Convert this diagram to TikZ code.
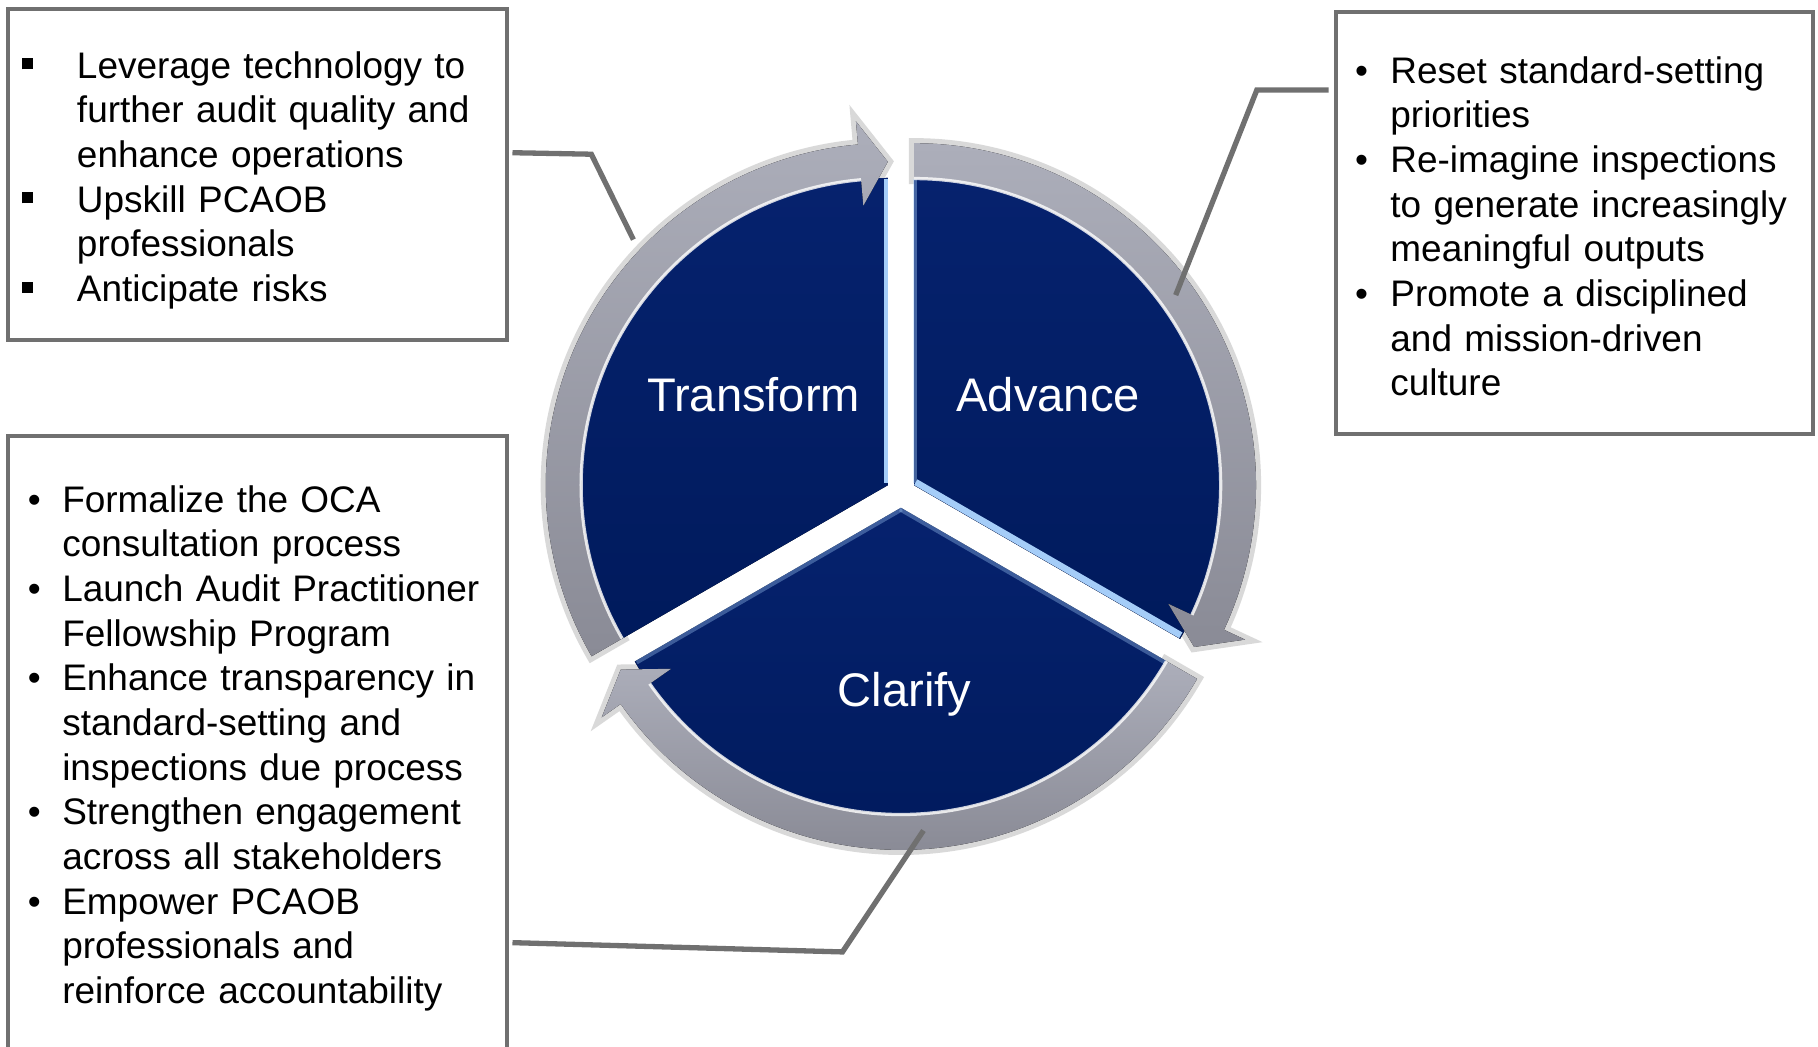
\documentclass[tikz,border=0pt]{standalone}
\usepackage{fontspec}
\setmainfont{Liberation Sans}
\usepackage{enumitem}

\definecolor{navyTop}{RGB}{6,34,110}
\definecolor{navyBot}{RGB}{0,26,92}
\definecolor{ringLight}{RGB}{172,174,186}
\definecolor{ringDark}{RGB}{138,139,150}
\definecolor{boxGray}{RGB}{112,112,112}
\definecolor{edgeBlue}{RGB}{165,205,248}

\newcommand{\sqbullet}{\rule[0.075cm]{0.095cm}{0.095cm}}

\begin{document}
\begin{tikzpicture}

    \tikzset{
      box/.style={
        draw=boxGray,
        line width=1pt,
        outer sep=0pt,
        inner sep=0pt,
        anchor=north west,
      },
      listtext/.style={
        anchor=north west,
        inner sep=0pt,
        text width=5cm,
        font=\fontsize{9.07pt}{10.96pt}\selectfont,
      },
      wedge/.style={top color=navyTop, bottom color=navyBot},
      ring/.style={top color=ringLight, bottom color=ringDark},
      ringshadow/.style={draw=black, line width=2.5pt, opacity=0.15},
      rimlight/.style={white, line width=0.8pt, opacity=0.8},
      edgelight/.style={edgeBlue, line width=1pt},
      seglabel/.style={anchor=base, text=white, font=\fontsize{11.57pt}{13.9pt}\selectfont},
      link/.style={draw=boxGray, line width=1.3pt},
    }
    \clip (0,0) rectangle (15.68,-9.03);

    % Transform
    \begin{scope}[shift={(7.657,-4.185)}]
	\draw[ringshadow] (210:2.95) arc[start angle=210,end angle=95,radius=2.95] -- (95:3.15) -- (90:2.79) -- (95:2.42) -- (95:2.64) arc[start angle=95,end angle=210,radius=2.64] -- cycle;
	\fill[wedge] (0,0) -- (90:2.65) arc[start angle=90,end angle=210,radius=2.65] -- cycle;
	\draw[edgelight] (-0.012,0.02) -- (-0.012,2.64);
	\fill[ring] (210:2.95) arc[start angle=210,end angle=95,radius=2.95] -- (95:3.15) -- (90:2.79) -- (95:2.42) -- (95:2.64) arc[start angle=95,end angle=210,radius=2.64] -- cycle;
	\draw[rimlight] (95:2.645) arc[start angle=95,end angle=210,radius=2.645];
	\node[seglabel] (transform) at (-1.157,0.639) {Transform};
	\coordinate (transformRim) at (136:3.05);
    \end{scope}

    % Advance
    \begin{scope}[shift={(7.883,-4.185)}]
	\draw[ringshadow] (90:2.95) arc[start angle=90,end angle=-25,radius=2.95] -- (-25:3.15) -- (-30:2.79) -- (-25:2.42) -- (-25:2.64) arc[start angle=-25,end angle=90,radius=2.64] -- cycle;
	\fill[wedge] (0,0) -- (-30:2.65) arc[start angle=-30,end angle=90,radius=2.65] -- cycle;
	\draw[edgelight, opacity=0.4] (0.012,0.02) -- (0.012,2.64);
	\draw[edgelight, line width=1.6pt] (0.015,0.026) -- (2.301,-1.294);
	\fill[ring] (90:2.95) arc[start angle=90,end angle=-25,radius=2.95] -- (-25:3.15) -- (-30:2.79) -- (-25:2.42) -- (-25:2.64) arc[start angle=-25,end angle=90,radius=2.64] -- cycle;
	\draw[rimlight] (-25:2.645) arc[start angle=-25,end angle=90,radius=2.645];
	\node[seglabel] (advance) at (1.157,0.639) {Advance};
	\coordinate (advanceRim) at (36:2.79);
    \end{scope}

    % Clarify
    \begin{scope}[shift={(7.77,-4.38)}]
	\draw[ringshadow] (330:2.95) arc[start angle=330,end angle=215,radius=2.95] -- (215:3.15) -- (210:2.79) -- (215:2.42) -- (215:2.64) arc[start angle=215,end angle=330,radius=2.64] -- cycle;
	\fill[wedge] (0,0) -- (210:2.65) arc[start angle=210,end angle=330,radius=2.65] -- cycle;
	\draw[edgelight, opacity=0.35] (0.0075,-0.013) -- (-2.279,-1.333);
	\draw[edgelight, opacity=0.35] (-0.0075,-0.013) -- (2.279,-1.333);
	\fill[ring] (330:2.95) arc[start angle=330,end angle=215,radius=2.95] -- (215:3.15) -- (210:2.79) -- (215:2.42) -- (215:2.64) arc[start angle=215,end angle=330,radius=2.64] -- cycle;
	\draw[rimlight] (215:2.645) arc[start angle=215,end angle=330,radius=2.645];
	\node[seglabel] (clarify) at (0.03,-1.71) {Clarify};
	\coordinate (clarifyRim) at (-86:2.79);
    \end{scope}

    % text boxes
    \node[box, minimum width=4.30cm, minimum height=2.85cm] (box1) at (0.07,-0.08) {};
    \node[box, minimum width=4.12cm, minimum height=3.64cm] (box2) at (11.52,-0.10) {};
    \node[box, minimum width=4.30cm, minimum height=5.60cm] (box3) at (0.07,-3.76) {};

    \node[listtext] (list1) at ([shift={(0.11,-0.201)}]box1.north west) {%
      \begin{itemize}[nosep, labelindent=0pt, labelwidth=0.10cm, labelsep=0.377cm, leftmargin=0.477cm, align=left, label=\sqbullet]
        \item Leverage technology to\\further audit quality and\\enhance operations
        \item Upskill PCAOB\\professionals
        \item Anticipate risks
      \end{itemize}};
    \node[listtext] (list2) at ([shift={(0.16,-0.226)}]box2.north west) {%
      \begin{itemize}[nosep, labelindent=0pt, labelwidth=0.15cm, labelsep=0.155cm, leftmargin=0.305cm, align=left, label=\textbullet]
        \item Reset standard-setting\\priorities
        \item Re-imagine inspections\\to generate increasingly\\meaningful outputs
        \item Promote a disciplined\\and mission-driven\\culture
      \end{itemize}};
    \node[listtext] (list3) at ([shift={(0.164,-0.266)}]box3.north west) {%
      \begin{itemize}[nosep, labelindent=0pt, labelwidth=0.15cm, labelsep=0.146cm, leftmargin=0.296cm, align=left, label=\textbullet]
        \item Formalize the OCA\\consultation process
        \item Launch Audit Practitioner\\Fellowship Program
        \item Enhance transparency in\\standard-setting and\\inspections due process
        \item Strengthen engagement\\across all stakeholders
        \item Empower PCAOB\\professionals and\\reinforce accountability
      \end{itemize}};

    % connectors
    \draw[link] ([xshift=0.05cm,yshift=0.188cm]box1.east) -- (5.10,-1.33) -- (transformRim);
    \draw[link] ([xshift=-0.06cm,yshift=-0.676cm]box2.north west) -- (10.84,-0.776) -- (advanceRim);
    \draw[link] ([xshift=0.05cm,yshift=-4.37cm]box3.north east) -- (7.266,-8.21) -- (clarifyRim);

\end{tikzpicture}
\end{document}
